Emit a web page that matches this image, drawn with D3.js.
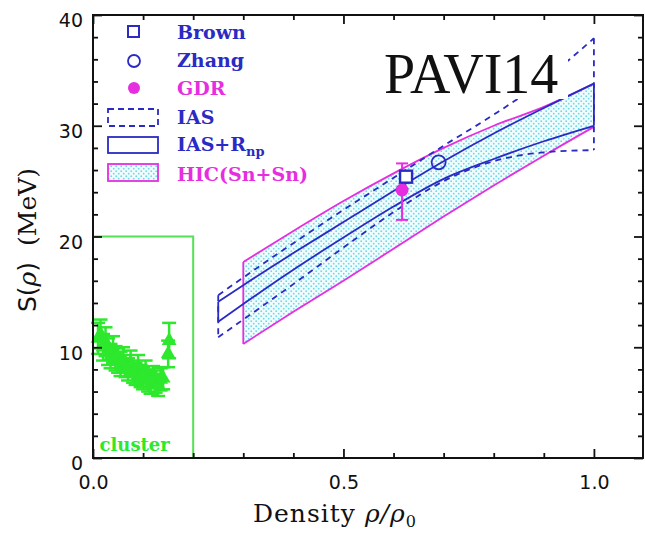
<!DOCTYPE html>
<html>
<head>
<meta charset="utf-8">
<script src="https://cdn.jsdelivr.net/npm/d3@7"></script>
<style>
  body { margin: 0; background: #fff; }
  svg { display: block; }
</style>
</head>
<body>
<div id="chart"></div>
<script>
// Data
const bandX = [0.25, 0.3, 0.4, 0.5, 0.6, 0.7, 0.8, 0.9, 1.0];
const iasUpper = [14.7, 16.3, 19.4, 22.4, 25.3, 28.2, 31.0, 34.1, 37.9];
const iasLower = [10.9, 12.5, 15.7, 19.0, 22.2, 25.0, 26.8, 27.6, 27.8];
const rnpUpper = [14.1, 15.6, 18.5, 21.3, 24.1, 26.8, 29.3, 31.6, 33.8];
const rnpLower = [12.3, 13.9, 17.0, 19.9, 22.7, 25.2, 27.0, 28.6, 30.0];

const hicX = [0.3, 0.4, 0.5, 0.6, 0.7, 0.8, 0.9, 1.0];
const hicUpper = [17.7, 20.5, 23.2, 25.7, 28.0, 30.0, 31.7, 33.8];
const hicLower = [10.3, 13.2, 16.0, 18.9, 21.8, 24.6, 27.3, 29.9];

const clusterX = [0.010, 0.015, 0.020, 0.025, 0.030, 0.035, 0.040, 0.045, 0.050, 0.055,
                  0.060, 0.065, 0.070, 0.075, 0.080, 0.085, 0.090, 0.095, 0.100, 0.105,
                  0.110, 0.115, 0.120, 0.125, 0.130, 0.135, 0.140, 0.150, 0.152];
const clusterS = [10.8, 11.2, 10.0, 10.5, 9.6, 9.2, 9.8, 9.0, 8.8, 8.5,
                  8.9, 8.3, 8.0, 8.6, 7.8, 7.6, 8.2, 7.4, 7.2, 7.8,
                  7.0, 6.8, 7.3, 6.9, 6.6, 7.1, 7.2, 9.4, 10.6];
const clusterErr = [1.4, 1.3, 1.2, 1.3, 1.2, 1.1, 1.2, 1.1, 1.1, 1.1,
                    1.1, 1.0, 1.0, 1.1, 1.0, 1.0, 1.1, 1.0, 1.0, 1.0,
                    1.0, 1.0, 1.0, 1.0, 1.0, 1.0, 1.0, 1.2, 1.6];

const clusterBox = { x0: 0, x1: 0.2, s0: 0, s1: 20 };

const brown = { x: 0.625, s: 25.4 };
const zhang = { x: 0.69, s: 26.7 };
const gdr = { x: 0.617, s: 24.2, lo: 21.5, hi: 26.6 };

const xMajor = [0, 0.5, 1.0];
const xMinor = [0.1, 0.2, 0.3, 0.4, 0.6, 0.7, 0.8, 0.9];
const yMajor = [0, 10, 20, 30, 40];
const yMinor = [2, 4, 6, 8, 12, 14, 16, 18, 22, 24, 26, 28, 32, 34, 36, 38];

const blue = '#2a2ac4';
const magenta = '#e62ee0';
const green = '#2de82d';

const width = 645, height = 535;
const svg = d3.select('#chart').append('svg')
    .attr('width', width)
    .attr('height', height);

svg.append('rect').attr('width', width).attr('height', height).attr('fill', '#fff');

// dotted cyan fill
const defs = svg.append('defs');
const pat = defs.append('pattern')
    .attr('id', 'dots')
    .attr('width', 5).attr('height', 5)
    .attr('patternUnits', 'userSpaceOnUse');
pat.append('rect').attr('width', 5).attr('height', 5).attr('fill', '#f0fcfd');
pat.append('circle').attr('cx', 1.2).attr('cy', 1.2).attr('r', 0.9).attr('fill', '#6cd9e8');
pat.append('circle').attr('cx', 3.7).attr('cy', 3.7).attr('r', 0.9).attr('fill', '#6cd9e8');

const x = d3.scaleLinear().domain([0, 1.1]).range([93, 644]);
const y = d3.scaleLinear().domain([0, 40]).range([458, 15]);

function curveD(xs, vals) {
    return d3.line().x(d => x(d[0])).y(d => y(d[1])).curve(d3.curveMonotoneX)(xs.map((v, i) => [v, vals[i]]));
}

// HIC band fill
const area = d3.area().x(d => x(d[0])).y0(d => y(d[2])).y1(d => y(d[1])).curve(d3.curveMonotoneX);
svg.append('path')
    .attr('d', area(hicX.map((v, i) => [v, hicUpper[i], hicLower[i]])))
    .attr('fill', 'url(#dots)');

// HIC outline
[hicUpper, hicLower].forEach(vals => {
    svg.append('path')
        .attr('d', curveD(hicX, vals))
        .attr('fill', 'none').attr('stroke', magenta).attr('stroke-width', 1.8);
});
svg.append('line')
    .attr('x1', x(hicX[0])).attr('x2', x(hicX[0]))
    .attr('y1', y(hicUpper[0])).attr('y2', y(hicLower[0]))
    .attr('stroke', magenta).attr('stroke-width', 1.8);

// IAS dashed band
const last = bandX.length - 1;
[iasUpper, iasLower].forEach(vals => {
    svg.append('path')
        .attr('d', curveD(bandX, vals))
        .attr('fill', 'none').attr('stroke', blue).attr('stroke-width', 1.8)
        .attr('stroke-dasharray', '6,5');
});
[0, last].forEach(i => {
    svg.append('line')
        .attr('x1', x(bandX[i])).attr('x2', x(bandX[i]))
        .attr('y1', y(iasUpper[i])).attr('y2', y(iasLower[i]))
        .attr('stroke', blue).attr('stroke-width', 1.8)
        .attr('stroke-dasharray', '6,5');
});

// IAS+Rnp solid band
[rnpUpper, rnpLower].forEach(vals => {
    svg.append('path')
        .attr('d', curveD(bandX, vals))
        .attr('fill', 'none').attr('stroke', blue).attr('stroke-width', 1.8);
});
[0, last].forEach(i => {
    svg.append('line')
        .attr('x1', x(bandX[i])).attr('x2', x(bandX[i]))
        .attr('y1', y(rnpUpper[i])).attr('y2', y(rnpLower[i]))
        .attr('stroke', blue).attr('stroke-width', 1.8);
});

// cluster box
svg.append('rect')
    .attr('x', x(clusterBox.x0))
    .attr('y', y(clusterBox.s1))
    .attr('width', x(clusterBox.x1) - x(clusterBox.x0))
    .attr('height', y(clusterBox.s0) - y(clusterBox.s1))
    .attr('fill', 'none').attr('stroke', '#55e055').attr('stroke-width', 2);

svg.append('text')
    .attr('x', x(0.013)).attr('y', 451)
    .attr('font-family', 'DejaVu Serif').attr('font-weight', 'bold')
    .attr('font-size', 18).attr('fill', green)
    .text('cluster');

// cluster points with error bars
const cl = svg.append('g');
clusterX.forEach((cx, i) => {
    const px = x(cx), s = clusterS[i], e = clusterErr[i];
    cl.append('line').attr('x1', px).attr('x2', px)
        .attr('y1', y(s + e)).attr('y2', y(s - e))
        .attr('stroke', green).attr('stroke-width', 2.5);
    [s + e, s - e].forEach(v => {
        cl.append('line').attr('x1', px - 7).attr('x2', px + 7)
            .attr('y1', y(v)).attr('y2', y(v))
            .attr('stroke', green).attr('stroke-width', 2.5);
    });
    cl.append('path')
        .attr('d', d3.symbol(d3.symbolTriangle, 95)())
        .attr('transform', `translate(${px},${y(s)})`)
        .attr('fill', green);
});

// GDR point with error bar
svg.append('line')
    .attr('x1', x(gdr.x)).attr('x2', x(gdr.x))
    .attr('y1', y(gdr.hi)).attr('y2', y(gdr.lo))
    .attr('stroke', magenta).attr('stroke-width', 2);
[gdr.hi, gdr.lo].forEach(v => {
    svg.append('line')
        .attr('x1', x(gdr.x) - 6).attr('x2', x(gdr.x) + 6)
        .attr('y1', y(v)).attr('y2', y(v))
        .attr('stroke', magenta).attr('stroke-width', 2);
});
svg.append('circle')
    .attr('cx', x(gdr.x)).attr('cy', y(gdr.s)).attr('r', 6.5)
    .attr('fill', magenta);

// Brown square
svg.append('rect')
    .attr('x', x(brown.x) - 6).attr('y', y(brown.s) - 6)
    .attr('width', 12).attr('height', 12)
    .attr('fill', '#fff').attr('stroke', blue).attr('stroke-width', 2.4);

// Zhang circle
svg.append('circle')
    .attr('cx', x(zhang.x)).attr('cy', y(zhang.s)).attr('r', 7)
    .attr('fill', 'none').attr('stroke', blue).attr('stroke-width', 1.8);

// PAVI14 label over a white box
svg.append('rect')
    .attr('x', 382).attr('y', 38).attr('width', 186).attr('height', 61)
    .attr('fill', '#fff');
svg.append('text')
    .attr('x', 384).attr('y', 93)
    .attr('font-family', 'Liberation Serif')
    .attr('font-size', 56).attr('fill', '#111')
    .text('PAVI14');

// axes
const axisFont = g => g.selectAll('text')
    .attr('font-family', 'DejaVu Sans').attr('font-size', 19).attr('fill', '#111');
const axisStyle = g => {
    g.select('.domain').remove();
    g.selectAll('line').attr('stroke', '#111').attr('stroke-width', 1.8);
};

svg.append('g').attr('transform', `translate(0,${y(0)})`)
    .call(d3.axisBottom(x).tickValues(xMajor).tickSize(-9).tickPadding(18).tickFormat(d3.format('.1f')))
    .call(axisStyle).call(axisFont);
svg.append('g').attr('transform', `translate(0,${y(0)})`)
    .call(d3.axisBottom(x).tickValues(xMinor).tickSize(-5).tickFormat(''))
    .call(axisStyle);
svg.append('g').attr('transform', `translate(0,${y(40)})`)
    .call(d3.axisTop(x).tickValues(xMajor).tickSize(-9).tickFormat(''))
    .call(axisStyle);
svg.append('g').attr('transform', `translate(0,${y(40)})`)
    .call(d3.axisTop(x).tickValues(xMinor).tickSize(-5).tickFormat(''))
    .call(axisStyle);

svg.append('g').attr('transform', `translate(${x(0)},0)`)
    .call(d3.axisLeft(y).tickValues(yMajor).tickSize(-9).tickPadding(10).tickFormat(d3.format('d')))
    .call(axisStyle).call(axisFont)
    .selectAll('text').attr('dy', '0.62em');
svg.append('g').attr('transform', `translate(${x(0)},0)`)
    .call(d3.axisLeft(y).tickValues(yMinor).tickSize(-5).tickFormat(''))
    .call(axisStyle);
svg.append('g').attr('transform', `translate(${x(1.1) - 1},0)`)
    .call(d3.axisRight(y).tickValues(yMajor).tickSize(-9).tickFormat(''))
    .call(axisStyle);
svg.append('g').attr('transform', `translate(${x(1.1) - 1},0)`)
    .call(d3.axisRight(y).tickValues(yMinor).tickSize(-5).tickFormat(''))
    .call(axisStyle);

// frame
svg.append('rect')
    .attr('x', x(0)).attr('y', y(40))
    .attr('width', x(1.1) - 1 - x(0)).attr('height', y(0) - y(40))
    .attr('fill', 'none').attr('stroke', '#111').attr('stroke-width', 2);

// axis titles
const xt = svg.append('text')
    .attr('x', 253).attr('y', 522)
    .attr('font-family', 'DejaVu Serif').attr('font-size', 25)
    .attr('letter-spacing', 1).attr('fill', '#111');
xt.append('tspan').text('Density ');
xt.append('tspan').attr('font-style', 'italic').text('ρ/ρ');
xt.append('tspan').attr('font-size', 16).attr('dy', 5).text('0');

const yt = svg.append('text')
    .attr('transform', 'translate(36,240) rotate(-90)')
    .attr('text-anchor', 'middle')
    .attr('font-family', 'DejaVu Serif').attr('font-size', 25)
    .attr('fill', '#111');
yt.append('tspan').attr('font-family', 'DejaVu Sans').text('S(');
yt.append('tspan').attr('font-style', 'italic').text('ρ');
yt.append('tspan').attr('font-family', 'DejaVu Sans').text(') ');
yt.append('tspan').attr('dx', 8).text('(MeV)');

// legend
const legend = svg.append('g')
    .attr('font-family', 'DejaVu Serif').attr('font-weight', 'bold').attr('font-size', 19);

legend.append('rect').attr('x', 128).attr('y', 26).attr('width', 11).attr('height', 11)
    .attr('fill', 'none').attr('stroke', blue).attr('stroke-width', 2);
legend.append('text').attr('x', 177).attr('y', 39).attr('fill', blue).text('Brown');

legend.append('circle').attr('cx', 134).attr('cy', 61).attr('r', 6)
    .attr('fill', 'none').attr('stroke', blue).attr('stroke-width', 1.8);
legend.append('text').attr('x', 177).attr('y', 67).attr('fill', blue).text('Zhang');

legend.append('circle').attr('cx', 134).attr('cy', 88).attr('r', 6).attr('fill', magenta);
legend.append('text').attr('x', 177).attr('y', 95).attr('fill', magenta).text('GDR');

legend.append('rect').attr('x', 108).attr('y', 109).attr('width', 50).attr('height', 17)
    .attr('fill', 'none').attr('stroke', blue).attr('stroke-width', 1.8)
    .attr('stroke-dasharray', '6,4');
legend.append('text').attr('x', 177).attr('y', 124).attr('fill', blue).text('IAS');

legend.append('rect').attr('x', 108).attr('y', 137).attr('width', 50).attr('height', 16)
    .attr('fill', 'none').attr('stroke', blue).attr('stroke-width', 1.8);
const rnp = legend.append('text').attr('x', 177).attr('y', 151).attr('fill', blue);
rnp.append('tspan').text('IAS+R');
rnp.append('tspan').attr('font-size', 13).attr('dy', 5).text('np');

legend.append('rect').attr('x', 108).attr('y', 164).attr('width', 50).attr('height', 17)
    .attr('fill', 'url(#dots)').attr('stroke', magenta).attr('stroke-width', 1.8);
legend.append('text').attr('x', 177).attr('y', 181).attr('fill', magenta).text('HIC(Sn+Sn)');
</script>
</body>
</html>
